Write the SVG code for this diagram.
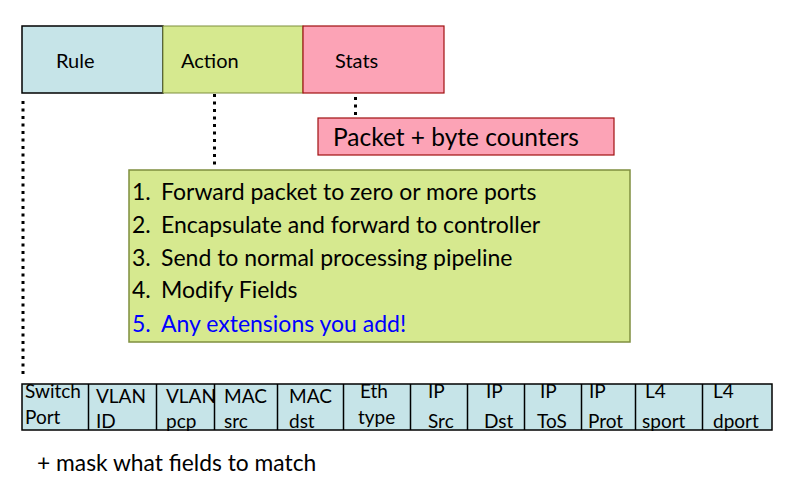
<svg xmlns="http://www.w3.org/2000/svg" width="801" height="485" viewBox="0 0 801 485">
<style>
text{font-family:Lato,"Liberation Sans",sans-serif;fill:#000}
.hdr{font-size:20px}
.big{font-size:23px}
.pk{font-size:24.5px}
.cell{font-size:19px}
.dot{stroke:#000;stroke-width:3;stroke-dasharray:3 4.5;fill:none}
.blue{fill:#0000ff}
</style>
<rect width="801" height="485" fill="#fff"/>
<g id="rule"><rect x="22" y="26" width="141" height="67" fill="#c6e4e8" stroke="#000" stroke-width="1.5"/><text class="hdr" x="56" y="68">Rule</text></g>
<g id="action"><rect x="163" y="26" width="140" height="67" fill="#d6e98f" stroke="#7f8f3f" stroke-width="1"/><text class="hdr" x="181" y="68">Action</text></g>
<g id="stats"><rect x="303" y="26" width="141" height="67" fill="#fca3b6" stroke="#a01010" stroke-width="1.2"/><text class="hdr" x="335" y="68">Stats</text></g>
<g id="counters"><rect x="318" y="118" width="296" height="37" fill="#fca3b6" stroke="#a01010" stroke-width="1.2"/><text class="pk" x="333" y="146">Packet + byte counters</text></g>
<g id="actions"><rect x="129" y="170" width="501" height="172" fill="#d6e98f" stroke="#7f8f3f" stroke-width="1.5"/>
<text class="big" x="132" y="200">1.</text><text class="big" x="161" y="200">Forward packet to zero or more ports</text>
<text class="big" x="132" y="233">2.</text><text class="big" x="161" y="233">Encapsulate and forward to controller</text>
<text class="big" x="132" y="266">3.</text><text class="big" x="161" y="266">Send to normal processing pipeline</text>
<text class="big" x="132" y="298">4.</text><text class="big" x="161" y="298">Modify Fields</text>
<text class="big blue" x="132" y="332">5.</text><text class="big blue" x="161" y="332">Any extensions you add!</text></g>
<g id="fields">
<rect x="22" y="384" width="750" height="46" fill="#c6e4e8" stroke="#000" stroke-width="1.5"/>
<path d="M88.5 384V430M156.5 384V430M214.5 384V430M277.5 384V430M343.5 384V430M410.5 384V430M467.5 384V430M524.5 384V430M581.5 384V430M635.5 384V430M702.5 384V430" stroke="#000" stroke-width="1.5"/>
<text class="cell" x="25" y="398">Switch</text><text class="cell" x="25" y="424">Port</text>
<text class="cell" x="96" y="403">VLAN</text><text class="cell" x="96" y="428">ID</text>
<text class="cell" x="166" y="403">VLAN</text><text class="cell" x="166" y="428">pcp</text>
<text class="cell" x="224" y="403">MAC</text><text class="cell" x="224" y="428">src</text>
<text class="cell" x="289" y="403">MAC</text><text class="cell" x="289" y="428">dst</text>
<text class="cell" x="360" y="398">Eth</text><text class="cell" x="358" y="424">type</text>
<text class="cell" x="428" y="398">IP</text><text class="cell" x="428" y="428">Src</text>
<text class="cell" x="486" y="398">IP</text><text class="cell" x="484" y="428">Dst</text>
<text class="cell" x="540" y="398">IP</text><text class="cell" x="537" y="428">ToS</text>
<text class="cell" x="589" y="398">IP</text><text class="cell" x="588" y="428">Prot</text>
<text class="cell" x="645" y="398">L4</text><text class="cell" x="642" y="428">sport</text>
<text class="cell" x="713" y="398">L4</text><text class="cell" x="713" y="428">dport</text>
</g>
<text x="37" y="471" style="font-size:22.8px">+ mask what fields to match</text>
<g id="connectors">
<path class="dot" d="M23 101V377"/>
<path class="dot" d="M214.5 94V166"/>
<path class="dot" d="M355.5 97V117"/>
</g>
</svg>
